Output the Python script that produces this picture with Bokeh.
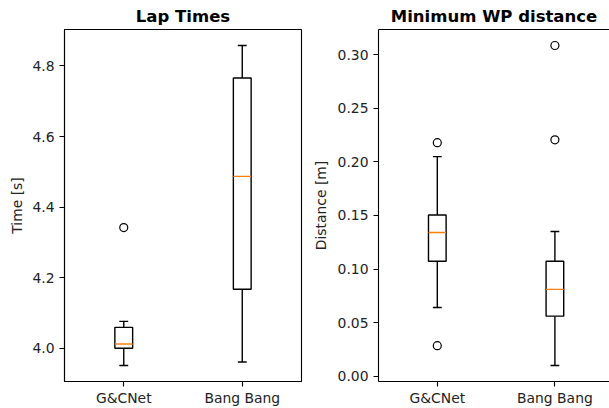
import numpy as np
from bokeh.plotting import figure
from bokeh.layouts import row
from bokeh.models import Range1d, FixedTicker, LinearAxis
from bokeh.embed import file_html
from bokeh.resources import INLINE

# ---- data ----
categories = ["G&CNet", "Bang Bang"]

lap_whislo = [3.951, 3.961]
lap_q1 = [4.000, 4.167]
lap_median = [4.012, 4.487]
lap_q3 = [4.059, 4.766]
lap_whishi = [4.076, 4.858]
lap_outliers = [[4.342], []]
lap_ticks = [4.0, 4.2, 4.4, 4.6, 4.8]

dist_whislo = [0.0642, 0.0102]
dist_q1 = [0.1073, 0.0562]
dist_median = [0.1341, 0.0811]
dist_q3 = [0.1505, 0.1073]
dist_whishi = [0.2048, 0.1351]
dist_outliers = [[0.0287, 0.2178], [0.2205, 0.3084]]
dist_ticks = [0.00, 0.05, 0.10, 0.15, 0.20, 0.25, 0.30]

FONT = "DejaVu Sans"
TICK_FS = "13.9px"


def style_axis(ax):
    ax.axis_line_color = "black"
    ax.axis_line_width = 1.1
    ax.major_tick_line_color = "black"
    ax.major_tick_line_width = 1.1
    ax.major_tick_out = 5
    ax.major_tick_in = 0
    ax.minor_tick_line_color = None
    ax.major_label_text_font = FONT
    ax.major_label_text_font_size = TICK_FS
    ax.major_label_text_color = "#222222"
    ax.axis_label_text_font = FONT
    ax.axis_label_text_font_size = TICK_FS
    ax.axis_label_text_font_style = "normal"
    ax.axis_label_text_color = "#222222"


def make_box(title, whislo, q1, med, q3, whishi, outliers, ticks, fmt, ylabel,
             width, border_left, border_right, x_end, outline, label_standoff):
    xs = np.arange(1, len(categories) + 1, dtype=float)
    allv = list(whislo) + list(whishi) + [v for lst in outliers for v in lst]
    lo, hi = min(allv), max(allv)
    pad = 0.05 * (hi - lo)
    p = figure(width=width, height=408, output_backend="svg", toolbar_location=None,
               x_range=Range1d(0.5, x_end), y_range=Range1d(lo - pad, hi + pad),
               min_border_left=border_left, min_border_right=border_right,
               min_border_top=29, min_border_bottom=26)
    p.grid.visible = False
    p.background_fill_color = "white"
    p.border_fill_color = "white"

    p.title.text = title
    p.title.text_font = FONT
    p.title.text_font_size = "16.5px"
    p.title.text_font_style = "bold"
    p.title.text_color = "black"
    p.title.align = "center"
    p.title.standoff = 8

    xaxis = p.below[0]
    yaxis = p.left[0]
    xaxis.ticker = FixedTicker(ticks=list(xs))
    xaxis.major_label_overrides = {float(x): c for x, c in zip(xs, categories)}
    xaxis.major_label_standoff = 3
    yaxis.ticker = FixedTicker(ticks=ticks)
    yaxis.major_label_overrides = {float(t): fmt.format(t) for t in ticks}
    yaxis.major_label_standoff = 5
    yaxis.axis_label = ylabel
    yaxis.axis_label_standoff = label_standoff
    style_axis(xaxis)
    style_axis(yaxis)

    if outline:
        p.outline_line_color = "black"
        p.outline_line_width = 1.1
    else:
        p.outline_line_color = None
        top = LinearAxis(ticker=FixedTicker(ticks=[]), major_label_text_font_size="0px",
                         major_tick_out=0, major_tick_in=0, major_label_standoff=0,
                         axis_line_color="black", axis_line_width=1.1)
        p.add_layout(top, "above")

    bw = 0.15
    lw = 1.4
    # whiskers
    p.segment(x0=xs, y0=q1, x1=xs, y1=whislo, line_color="black", line_width=lw)
    p.segment(x0=xs, y0=q3, x1=xs, y1=whishi, line_color="black", line_width=lw)
    # caps
    p.segment(x0=xs - bw / 4, y0=whislo, x1=xs + bw / 4, y1=whislo, line_color="black", line_width=lw)
    p.segment(x0=xs - bw / 4, y0=whishi, x1=xs + bw / 4, y1=whishi, line_color="black", line_width=lw)
    # boxes
    p.vbar(x=xs, width=bw, bottom=q1, top=q3, fill_color="white",
           line_color="black", line_width=lw)
    # medians
    p.segment(x0=xs - bw / 2, y0=med, x1=xs + bw / 2, y1=med,
              line_color="#ff7f0e", line_width=lw)
    # outliers
    ox = [xs[i] for i, lst in enumerate(outliers) for _ in lst]
    oy = [v for lst in outliers for v in lst]
    p.scatter(x=ox, y=oy, marker="circle", size=8, fill_color=None,
              line_color="black", line_width=1.2)
    return p


left = make_box("Lap Times", lap_whislo, lap_q1, lap_median, lap_q3, lap_whishi,
                lap_outliers, lap_ticks, "{:.1f}", "Time [s]",
                width=305, border_left=64, border_right=4, x_end=2.5, outline=True,
                label_standoff=4)
right = make_box("Minimum WP distance", dist_whislo, dist_q1, dist_median, dist_q3,
                 dist_whishi, dist_outliers, dist_ticks, "{:.2f}", "Distance [m]",
                 width=304, border_left=73, border_right=0, x_end=0.5 + 231 / 117.6,
                 outline=False, label_standoff=6)

layout = row(left, right)
open("out.html", "w").write(file_html(layout, INLINE))
